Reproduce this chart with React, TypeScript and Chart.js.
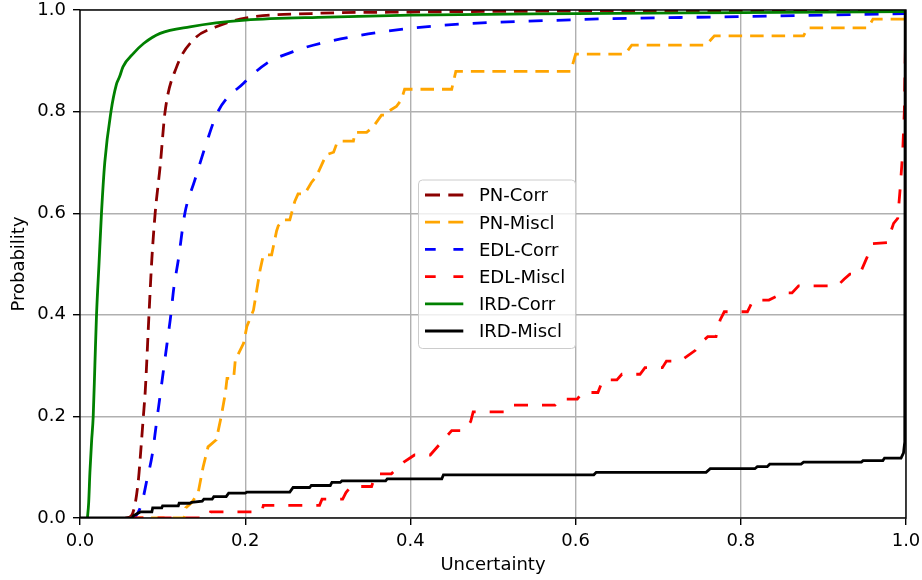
import React, { useEffect, useRef } from 'react';
import { Chart, registerables } from 'chart.js';

Chart.register(...registerables);

const FONT = "'DejaVu Sans', sans-serif";

// ---- data ----
const seriesLabels = ['PN-Corr', 'PN-Miscl', 'EDL-Corr', 'EDL-Miscl', 'IRD-Corr', 'IRD-Miscl'];
const seriesColors = ['#8B0000', '#FFA500', '#0000FF', '#FF0000', '#008000', '#000000'];

const xTicks = [0, 0.2, 0.4, 0.6, 0.8, 1.0];
const yTicks = [0, 0.2, 0.4, 0.6, 0.8, 1.0];

const pnCorrX = [0.055, 0.062, 0.067, 0.071, 0.073, 0.0767, 0.079, 0.0835, 0.087, 0.091, 0.097, 0.103, 0.117, 0.137, 0.165, 0.2, 0.28, 0.4, 0.6, 0.8, 1.0];
const pnCorrY = [0, 0.004, 0.03, 0.08, 0.12, 0.2, 0.25, 0.4, 0.51, 0.6, 0.692, 0.8, 0.888, 0.941, 0.967, 0.984, 0.993, 0.996, 0.998, 0.999, 1.0];

const pnMisclX = [0.06, 0.126, 0.128, 0.135, 0.143, 0.149, 0.155, 0.165, 0.171, 0.176, 0.178, 0.186, 0.188, 0.198, 0.202, 0.21, 0.218, 0.222, 0.232, 0.238, 0.24, 0.246, 0.254, 0.26, 0.264, 0.272, 0.28, 0.286, 0.292, 0.298, 0.307, 0.311, 0.315, 0.331, 0.333, 0.347, 0.355, 0.365, 0.37, 0.373, 0.383, 0.389, 0.393, 0.45, 0.455, 0.594, 0.6, 0.66, 0.668, 0.758, 0.768, 0.876, 0.881, 0.954, 0.96, 0.999, 1.0];
const pnMisclY = [0, 0, 0.02, 0.03, 0.049, 0.1, 0.14, 0.154, 0.2, 0.246, 0.275, 0.275, 0.311, 0.344, 0.377, 0.409, 0.488, 0.518, 0.518, 0.565, 0.575, 0.587, 0.587, 0.623, 0.638, 0.638, 0.66, 0.672, 0.693, 0.715, 0.72, 0.738, 0.742, 0.742, 0.759, 0.759, 0.77, 0.793, 0.793, 0.8, 0.81, 0.823, 0.844, 0.844, 0.879, 0.879, 0.913, 0.913, 0.931, 0.931, 0.949, 0.949, 0.965, 0.965, 0.982, 0.982, 1.0];

const edlCorrX = [0.062, 0.067, 0.075, 0.081, 0.0875, 0.092, 0.0936, 0.0965, 0.101, 0.1055, 0.11, 0.1135, 0.119, 0.127, 0.139, 0.153, 0.167, 0.198, 0.226, 0.258, 0.29, 0.4, 0.6, 0.8, 1.0];
const edlCorrY = [0, 0.003, 0.03, 0.075, 0.125, 0.18, 0.2, 0.235, 0.29, 0.345, 0.4, 0.452, 0.508, 0.6, 0.665, 0.738, 0.8, 0.856, 0.895, 0.918, 0.934, 0.964, 0.981, 0.987, 0.993];

const edlMisclX = [0.06, 0.155, 0.158, 0.22, 0.222, 0.29, 0.293, 0.318, 0.322, 0.328, 0.353, 0.358, 0.377, 0.385, 0.392, 0.405, 0.424, 0.438, 0.45, 0.466, 0.473, 0.476, 0.515, 0.52, 0.575, 0.58, 0.602, 0.608, 0.627, 0.633, 0.65, 0.656, 0.678, 0.684, 0.705, 0.71, 0.727, 0.745, 0.752, 0.76, 0.77, 0.775, 0.78, 0.808, 0.815, 0.834, 0.852, 0.862, 0.87, 0.917, 0.925, 0.932, 0.944, 0.952, 0.96, 0.977, 0.985, 0.99, 0.993, 0.996, 0.998, 0.999, 1.0];
const edlMisclY = [0, 0, 0.012, 0.012, 0.025, 0.025, 0.037, 0.037, 0.05, 0.062, 0.062, 0.087, 0.087, 0.1, 0.11, 0.124, 0.124, 0.15, 0.172, 0.172, 0.19, 0.209, 0.209, 0.222, 0.222, 0.234, 0.234, 0.247, 0.247, 0.272, 0.272, 0.283, 0.283, 0.296, 0.296, 0.309, 0.309, 0.33, 0.345, 0.357, 0.357, 0.39, 0.406, 0.406, 0.429, 0.429, 0.443, 0.443, 0.457, 0.457, 0.47, 0.48, 0.48, 0.51, 0.54, 0.542, 0.58, 0.59, 0.65, 0.72, 0.8, 0.9, 1.0];

const irdCorrX = [0.009, 0.0105, 0.012, 0.014, 0.016, 0.018, 0.02, 0.023, 0.026, 0.03, 0.0375, 0.044, 0.048, 0.052, 0.065, 0.077, 0.097, 0.133, 0.2, 0.3, 0.4, 0.6, 0.8, 1.0];
const irdCorrY = [0, 0.03, 0.09, 0.15, 0.2, 0.3, 0.4, 0.5, 0.6, 0.7, 0.8, 0.853, 0.869, 0.888, 0.915, 0.934, 0.954, 0.967, 0.98, 0.986, 0.99, 0.993, 0.995, 0.997];

const irdMisclX = [0, 0.063, 0.065, 0.073, 0.087, 0.088, 0.099, 0.1, 0.119, 0.12, 0.133, 0.135, 0.148, 0.15, 0.16, 0.162, 0.177, 0.18, 0.2, 0.202, 0.254, 0.258, 0.278, 0.28, 0.303, 0.305, 0.315, 0.317, 0.37, 0.372, 0.438, 0.44, 0.622, 0.625, 0.758, 0.763, 0.817, 0.82, 0.832, 0.835, 0.873, 0.876, 0.946, 0.948, 0.972, 0.974, 0.994, 0.997, 0.9985, 0.999];
const irdMisclY = [0, 0, 0.005, 0.012, 0.012, 0.02, 0.02, 0.024, 0.024, 0.029, 0.029, 0.031, 0.033, 0.037, 0.037, 0.042, 0.042, 0.049, 0.049, 0.051, 0.051, 0.06, 0.06, 0.064, 0.064, 0.07, 0.07, 0.073, 0.073, 0.077, 0.077, 0.085, 0.085, 0.09, 0.09, 0.097, 0.097, 0.101, 0.101, 0.106, 0.106, 0.11, 0.11, 0.113, 0.113, 0.118, 0.118, 0.128, 0.15, 1.0];

const seriesX = [pnCorrX, pnMisclX, edlCorrX, edlMisclX, irdCorrX, irdMisclX];
const seriesY = [pnCorrY, pnMisclY, edlCorrY, edlMisclY, irdCorrY, irdMisclY];
const seriesSmooth = [true, false, true, false, true, false];
const plotDash = [[13.5, 8], [13.5, 8], [14, 14], [14, 14], [], []];
const legendDash = [[15, 8.3], [15, 8.3], [10.7, 17.7], [10.7, 17.7], [], []];

const LINE_W = 2.8;

const framePlugin = {
  id: 'frame',
  afterDatasetsDraw(chart: any) {
    const { ctx, chartArea: a } = chart;
    ctx.save();
    ctx.strokeStyle = '#000';
    ctx.lineWidth = 1.4;
    ctx.setLineDash([]);
    ctx.strokeRect(a.left, a.top, a.right - a.left, a.bottom - a.top);
    ctx.restore();
  },
};

const legendPlugin = {
  id: 'mplLegend',
  afterDraw(chart: any) {
    const { ctx, chartArea: a } = chart;
    const bx = a.left + 338.5;
    const by = a.top + 170;
    const bw = 157;
    const bh = 168.5;
    ctx.save();
    ctx.beginPath();
    if (ctx.roundRect) ctx.roundRect(bx, by, bw, bh, 4);
    else ctx.rect(bx, by, bw, bh);
    ctx.fillStyle = 'rgba(255,255,255,0.8)';
    ctx.fill();
    ctx.strokeStyle = '#cccccc';
    ctx.lineWidth = 1;
    ctx.stroke();
    seriesLabels.forEach((label, i) => {
      const cy = by + 15 + i * 27.2;
      ctx.setLineDash(legendDash[i]);
      ctx.strokeStyle = seriesColors[i];
      ctx.lineWidth = LINE_W;
      ctx.lineCap = 'butt';
      ctx.beginPath();
      ctx.moveTo(bx + 6.5, cy);
      ctx.lineTo(bx + 44.8, cy);
      ctx.stroke();
      ctx.setLineDash([]);
      ctx.fillStyle = '#000';
      ctx.font = `18px ${FONT}`;
      ctx.textBaseline = 'alphabetic';
      ctx.textAlign = 'left';
      ctx.fillText(label, bx + 60.5, cy + 6.3);
    });
    ctx.restore();
  },
};

const zeroPad = (s: any) => {
  s.paddingTop = 0;
  s.paddingBottom = 0;
  s.paddingLeft = 0;
  s.paddingRight = 0;
};

export default function App() {
  const ref = useRef<HTMLCanvasElement>(null);
  useEffect(() => {
    document.body.style.margin = '0';
    const canvas = ref.current!;
    const datasets = seriesLabels.map((label, i) => ({
      label,
      data: seriesX[i].map((x, j) => ({ x, y: seriesY[i][j] })),
      borderColor: seriesColors[i],
      backgroundColor: seriesColors[i],
      borderWidth: LINE_W,
      borderDash: plotDash[i],
      fill: false,
      tension: 0,
      cubicInterpolationMode: seriesSmooth[i] ? ('monotone' as const) : ('default' as const),
      pointRadius: 0,
      clip: 0,
      order: 6 - i,
    }));
    const tickFont = { family: FONT, size: 18, lineHeight: 1 };
    const titleFont = { family: FONT, size: 18, lineHeight: 1.2 };
    const chart = new Chart(canvas, {
      type: 'line',
      data: { datasets: datasets as any },
      options: {
        responsive: false,
        animation: false,
        devicePixelRatio: 1,
        layout: { padding: { top: 10, right: 16, left: 0, bottom: 0 } },
        plugins: { legend: { display: false }, tooltip: { enabled: false } },
        elements: { point: { radius: 0 } },
        scales: {
          x: {
            type: 'linear',
            min: 0,
            max: 1,
            afterBuildTicks: (s: any) => { s.ticks = xTicks.map((v) => ({ value: v })); },
            ticks: {
              callback: (v: any) => Number(v).toFixed(1),
              font: tickFont,
              color: '#000',
              padding: 7,
              maxRotation: 0,
              autoSkip: false,
            },
            grid: { color: '#b0b0b0', lineWidth: 1.4, tickColor: '#000', tickLength: 7, tickWidth: 1.4 },
            border: { display: false },
            title: { display: true, text: 'Uncertainty', font: titleFont, color: '#000', padding: { top: 0, bottom: 3.7 } },
            afterFit: (s: any) => { s.height = 62; zeroPad(s); },
          },
          y: {
            type: 'linear',
            min: 0,
            max: 1,
            afterBuildTicks: (s: any) => { s.ticks = yTicks.map((v) => ({ value: v })); },
            ticks: {
              callback: (v: any) => Number(v).toFixed(1),
              font: tickFont,
              color: '#000',
              padding: 7,
              autoSkip: false,
            },
            grid: { color: '#b0b0b0', lineWidth: 1.4, tickColor: '#000', tickLength: 7, tickWidth: 1.4 },
            border: { display: false },
            title: { display: true, text: 'Probability', font: titleFont, color: '#000', padding: { top: 8.8, bottom: 0 } },
            afterFit: (s: any) => { s.width = 80; zeroPad(s); },
          },
        },
      } as any,
      plugins: [framePlugin, legendPlugin],
    });
    return () => chart.destroy();
  }, []);
  return (
    <div style={{ width: 922, height: 580 }}>
      <canvas ref={ref} width={922} height={580} style={{ display: 'block' }} />
    </div>
  );
}
